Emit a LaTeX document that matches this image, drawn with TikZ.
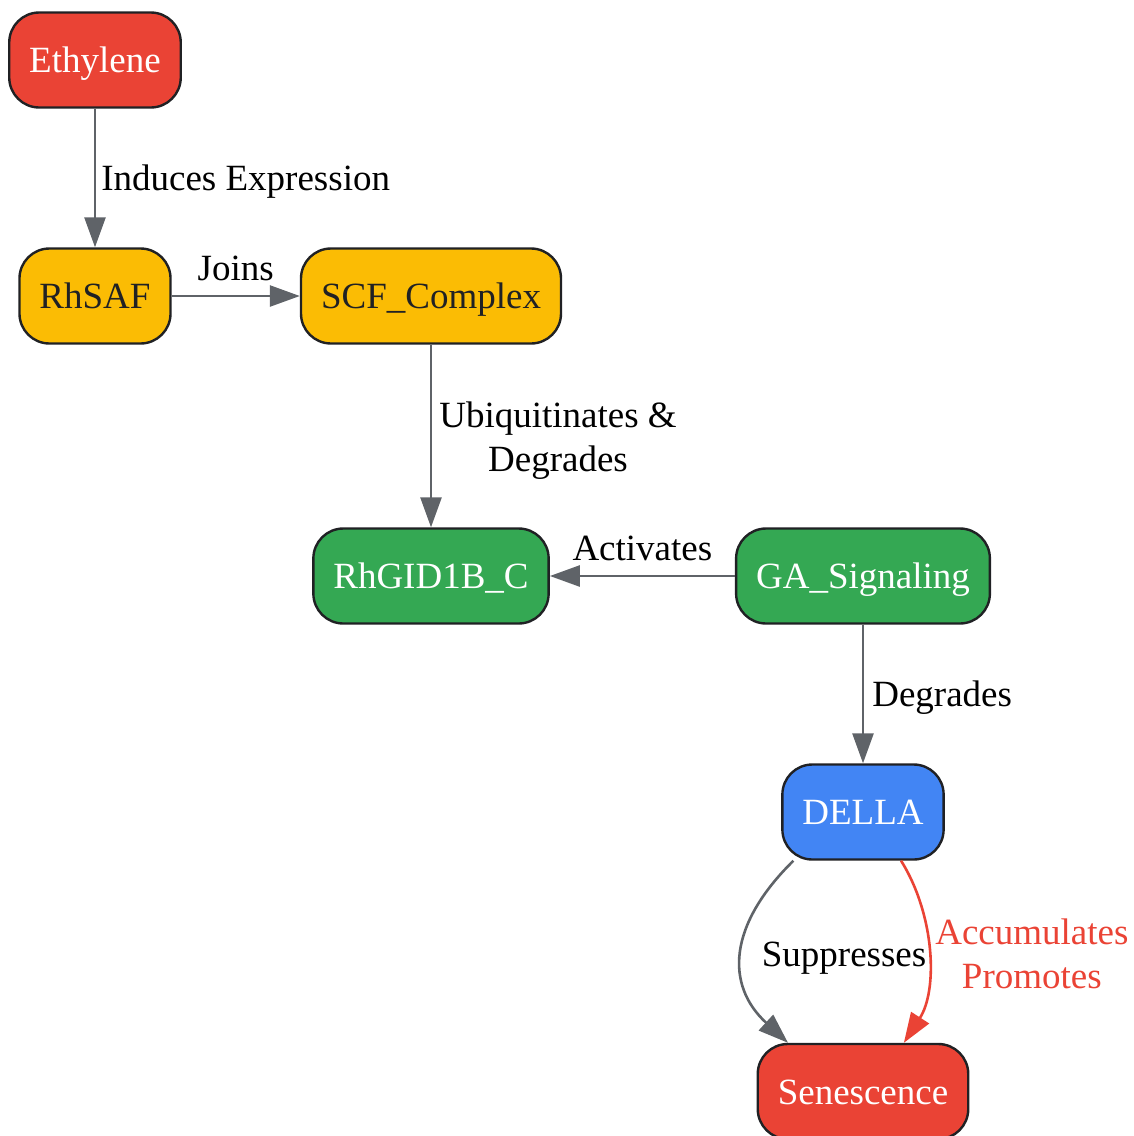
\documentclass[tikz,border=0pt]{standalone}
\usepackage{fontspec}
\setmainfont{Liberation Serif}
\usetikzlibrary{arrows.meta}

\definecolor{gred}{HTML}{EA4335}
\definecolor{gyellow}{HTML}{FBBC04}
\definecolor{ggreen}{HTML}{34A853}
\definecolor{gblue}{HTML}{4285F4}
\definecolor{edgegray}{HTML}{5F6368}
\definecolor{boxline}{HTML}{202124}

\begin{document}
\begin{tikzpicture}[x=0.5pt,y=-0.5pt,>={Triangle[length=15pt,width=10.5pt]},
        font=\fontsize{18.5}{22}\selectfont,
        every edge/.style={draw=edgegray,line width=1.3pt,->}]
                \tikzstyle{box}=[draw=boxline,line width=1.2pt,rounded corners=15pt,minimum height=47.5pt,inner xsep=10pt,text=white,text height=12.5pt,text depth=0pt]
                \tikzstyle{lbl}=[text=black,inner sep=2pt,text height=12.5pt,text depth=0pt]
                \tikzstyle{twolines}=[text=black,inner sep=2pt,align=center]

                \useasboundingbox (0,0) rectangle (1134,1136);

                \node[box,fill=gred]                  (eth)   at (95,60)     {Ethylene};
                \node[box,fill=gyellow,text=boxline]  (saf)   at (95,296)    {RhSAF};
                \node[box,fill=gyellow,text=boxline]  (scf)   at (431,296)   {SCF\_Complex};
                \node[box,fill=ggreen]                (gid)   at (431,576)   {RhGID1B\_C};
                \node[box,fill=ggreen]                (ga)    at (863,576)   {GA\_Signaling};
                \node[box,fill=gblue]                 (della) at (863,812)   {DELLA};
                \node[box,fill=gred]                  (sen)   at (863,1091.5) {Senescence};

                \path   (eth) edge  node[lbl,right=0.5pt] {Induces Expression} (saf)
                        (saf) edge  node[lbl,above=5pt]   {Joins} (scf)
                        (scf) edge  node[twolines,right=1.5pt,yshift=-2.5pt] {Ubiquitinates \&\\Degrades} (gid)
                        (ga)  edge  node[lbl,above=5pt]   {Activates} (gid)
                        (ga)  edge  node[lbl,right=2pt]   {Degrades} (della);

                % the two effects of DELLA
                \draw[edgegray,line width=1.3pt,->] (della.-145) .. controls (728,925) and (725,985) .. node[lbl,right=7pt] {Suppresses} (sen.147);
                \draw[gred,line width=1.3pt,->] (della.-52) .. controls (935,915) and (938,990) .. node[twolines,text=gred,right=1pt,yshift=-1pt] {Accumulates\\Promotes} (sen.50);
            \end{tikzpicture}
\end{document}
